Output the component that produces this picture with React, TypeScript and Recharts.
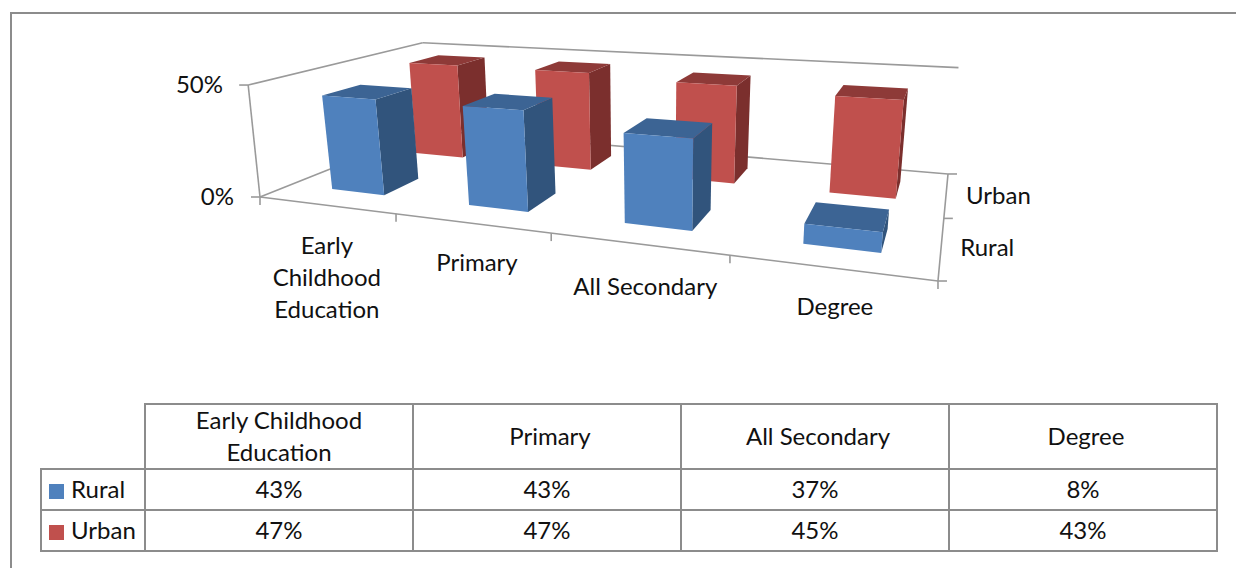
import React from 'react';
import { BarChart, Bar, XAxis, YAxis } from 'recharts';

const categories = ['Early Childhood Education', 'Primary', 'All Secondary', 'Degree'];
const categoryLines = [['Early', 'Childhood', 'Education'], ['Primary'], ['All Secondary'], ['Degree']];
const ruralValues = [0.43, 0.43, 0.37, 0.08];
const urbanValues = [0.47, 0.47, 0.45, 0.43];
const valueTicks = [0, 0.5];
const valueMax = 0.5;

const chartData = categories.map((name, i) => ({ name, rural: ruralValues[i], urban: urbanValues[i] }));

const WIDTH = 1236;
const HEIGHT = 568;
const FONT = 'Lato, sans-serif';
const FONT_SIZE = 24;
const LINE = '#9a9a9a';
const TEXT = '#111';
const BORDER = '#8c8c8c';

const ruralColors = { front: '#4f81bd', top: '#3c6494', side: '#31547c' };
const urbanColors = { front: '#c0504d', top: '#8e3a38', side: '#7b2f2d' };

// bars sit slightly right of their band centre on the sloped floor
const BAR_SHIFT = 0.005;
// hand placement of the category labels below the sloped front edge
const labelNudge = [[-4, 1], [1, 0], [3, 3], [0, -1]];

// u runs along the categories, v into the depth of the floor, t up the value axis (all 0..1)
function project(u: number, v: number, t: number): [number, number] {
  const w = -0.247 * u + 0.3086 * v - 0.045 * t + 1;
  const x = 446.3 * u + 300.1 * v - 26 * t - 6 * u * t + 260;
  const y = 14.6 * u - 26.9 * v - 116 * t + 197;
  return [x / w, y / w];
}

function polygon(points: [number, number][]) {
  return 'M' + points.map((p) => p[0].toFixed(1) + ',' + p[1].toFixed(1)).join('L') + 'Z';
}

function Box3D(props: any) {
  const { x, y, width, depthStart, depthEnd, colors } = props;
  const u0 = x / WIDTH + BAR_SHIFT;
  const u1 = (x + width) / WIDTH + BAR_SHIFT;
  const t = (HEIGHT - y) / HEIGHT;
  const front = [project(u0, depthStart, 0), project(u1, depthStart, 0), project(u1, depthStart, t), project(u0, depthStart, t)] as [number, number][];
  const side = [project(u1, depthStart, 0), project(u1, depthEnd, 0), project(u1, depthEnd, t), project(u1, depthStart, t)] as [number, number][];
  const top = [project(u0, depthStart, t), project(u1, depthStart, t), project(u1, depthEnd, t), project(u0, depthEnd, t)] as [number, number][];
  return (
    <g>
      <path d={polygon(side)} fill={colors.side} />
      <path d={polygon(top)} fill={colors.top} />
      <path d={polygon(front)} fill={colors.front} />
    </g>
  );
}

function Segment({ from, to }: { from: [number, number]; to: [number, number] }) {
  return <line x1={from[0]} y1={from[1]} x2={to[0]} y2={to[1]} stroke={LINE} strokeWidth={1.6} />;
}

// Walls, floor outline and the tick marks of all three axes
function Frame3D() {
  const bandTicks = categories.map((_, i) => i / categories.length).concat(1);
  const depthTicks = [0, 0.5, 1];
  const cornerTop = project(0.006, 0, 1);
  return (
    <g>
      <Segment from={cornerTop} to={project(0, 1, 1)} />
      <Segment from={project(0, 1, 1)} to={project(1, 1, 1)} />
      <Segment from={cornerTop} to={project(0, 0, 0)} />
      <Segment from={project(0, 0, 0)} to={project(0, 1, 0)} />
      <Segment from={project(0, 1, 0)} to={project(1, 1, 0)} />
      <Segment from={project(0, 0, 0)} to={project(1, 0, 0)} />
      <Segment from={project(1, 0, 0)} to={project(1, 1, 0)} />
      {bandTicks.map((u) => {
        const p = project(u, 0, 0);
        return <Segment key={u} from={p} to={[p[0], p[1] + 8]} />;
      })}
      {depthTicks.map((v) => {
        const p = project(1, v, 0);
        return <Segment key={v} from={p} to={[p[0] + 9, p[1]]} />;
      })}
      {valueTicks.map((tick) => {
        const p = tick === 0 ? project(0, 0, 0) : cornerTop;
        return <Segment key={tick} from={[p[0] - 9, p[1]]} to={p} />;
      })}
      <text x={project(1, 0.75, 0)[0] + 20} y={project(1, 0.75, 0)[1] + 10} fontFamily={FONT} fontSize={FONT_SIZE} fill={TEXT}>Urban</text>
      <text x={project(1, 0.25, 0)[0] + 19} y={project(1, 0.25, 0)[1] + 9} fontFamily={FONT} fontSize={FONT_SIZE} fill={TEXT}>Rural</text>
    </g>
  );
}

function CategoryTick(props: any) {
  const { x, index } = props;
  const base = project(x / WIDTH, 0, 0);
  const [dx, dy] = labelNudge[index];
  return (
    <text textAnchor="middle" fontFamily={FONT} fontSize={FONT_SIZE} fill={TEXT}>
      {categoryLines[index].map((line, i) => (
        <tspan key={line} x={base[0] + 5 + dx} y={base[1] + 48 + dy + i * 32}>{line}</tspan>
      ))}
    </text>
  );
}

function ValueTick(props: any) {
  const { payload } = props;
  const p = project(0, 0, payload.value / valueMax);
  return (
    <text x={p[0] - (payload.value === 0 ? 26 : 22)} y={p[1] + 8} textAnchor="end" fontFamily={FONT} fontSize={FONT_SIZE} fill={TEXT}>
      {Math.round(payload.value * 100) + '%'}
    </text>
  );
}

const cellStyle: React.CSSProperties = {
  border: '2px solid ' + BORDER,
  textAlign: 'center',
  padding: 0,
  fontFamily: FONT,
  fontSize: FONT_SIZE,
  color: TEXT,
  lineHeight: '31.5px',
};

// cell text sits a little above the geometric middle of its cell
function Lifted({ children, by = 1 }: { children: React.ReactNode; by?: number }) {
  return <span style={{ position: 'relative', top: -by }}>{children}</span>;
}

function DataRow({ label, color, values }: { label: string; color: string; values: number[] }) {
  return (
    <tr style={{ height: 41 }}>
      <td style={{ ...cellStyle, textAlign: 'left', whiteSpace: 'nowrap' }}>
        <Lifted>
          <span style={{ display: 'inline-block', width: 15, height: 15, background: color, margin: '0 7px 0 7px', verticalAlign: -1 }} />
          {label}
        </Lifted>
      </td>
      {values.map((v, i) => (
        <td key={i} style={cellStyle}><Lifted>{Math.round(v * 100)}%</Lifted></td>
      ))}
    </tr>
  );
}

export default function App() {
  return (
    <div style={{ position: 'absolute', left: 0, top: 0, width: WIDTH, height: HEIGHT, overflow: 'hidden', background: '#fff' }}>
      <div style={{ position: 'absolute', left: 10, top: 12, width: WIDTH, height: HEIGHT, borderLeft: '2px solid ' + BORDER, borderTop: '2px solid ' + BORDER }} />
      <div style={{ position: 'absolute', left: 0, top: 0 }}>
        <BarChart width={WIDTH} height={HEIGHT} data={chartData} margin={{ top: 0, right: 0, bottom: 0, left: 0 }} barCategoryGap="30.2%">
          <Frame3D />
          <XAxis xAxisId="rural" dataKey="name" mirror height={30} axisLine={false} tickLine={false} tick={<CategoryTick />} interval={0} />
          <XAxis xAxisId="urban" dataKey="name" hide />
          <YAxis mirror width={30} domain={[0, valueMax]} ticks={valueTicks} interval={0} axisLine={false} tickLine={false} tick={<ValueTick />} />
          <Bar
            xAxisId="urban"
            dataKey="urban"
            isAnimationActive={false}
            shape={(p: any) => <Box3D {...p} depthStart={0.65} depthEnd={0.85} colors={urbanColors} />}
          />
          <Bar
            xAxisId="rural"
            dataKey="rural"
            isAnimationActive={false}
            shape={(p: any) => <Box3D {...p} depthStart={0.15} depthEnd={0.35} colors={ruralColors} />}
          />
        </BarChart>
      </div>
      <table style={{ position: 'absolute', left: 40, top: 403, width: 1178, tableLayout: 'fixed', borderCollapse: 'collapse' }}>
        <colgroup>
          <col style={{ width: 104 }} />
          {categories.map((c) => <col key={c} style={{ width: 268 }} />)}
        </colgroup>
        <tbody>
          <tr style={{ height: 65 }}>
            <td style={{ padding: 0 }} />
            {categories.map((c, i) => (
              <td key={c} style={{ ...cellStyle, paddingLeft: i > 0 ? 6 : 0 }}><Lifted>{c}</Lifted></td>
            ))}
          </tr>
          <DataRow label="Rural" color={ruralColors.front} values={ruralValues} />
          <DataRow label="Urban" color={urbanColors.front} values={urbanValues} />
        </tbody>
      </table>
    </div>
  );
}
